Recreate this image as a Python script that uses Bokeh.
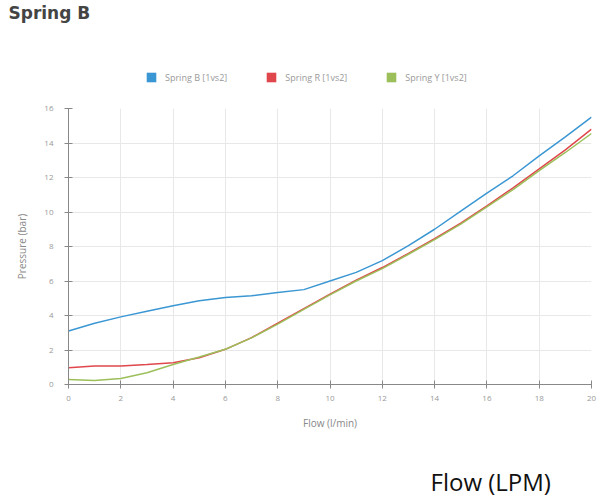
from bokeh.plotting import figure
from bokeh.models import Legend, LegendItem, Label, FixedTicker, Range1d
from bokeh.layouts import column
from bokeh.embed import file_html
from bokeh.resources import INLINE

flow = [0, 1, 2, 3, 4, 5, 6, 7, 8, 9, 10, 11, 12, 13, 14, 15, 16, 17, 18, 19, 20]
spring_b = [3.1, 3.55, 3.92, 4.25, 4.56, 4.85, 5.04, 5.14, 5.33, 5.5, 6.0, 6.5, 7.18, 8.05, 9.0, 10.05, 11.1, 12.1, 13.25, 14.35, 15.5]
spring_r = [0.97, 1.07, 1.07, 1.16, 1.26, 1.55, 2.04, 2.72, 3.55, 4.4, 5.24, 6.05, 6.78, 7.6, 8.45, 9.35, 10.35, 11.4, 12.5, 13.6, 14.8]
spring_y = [0.29, 0.23, 0.35, 0.68, 1.16, 1.59, 2.04, 2.7, 3.5, 4.35, 5.2, 6.0, 6.72, 7.55, 8.4, 9.3, 10.3, 11.3, 12.4, 13.45, 14.55]
series = [spring_b, spring_r, spring_y]
series_names = ["Spring B [1vs2]", "Spring R [1vs2]", "Spring Y [1vs2]"]
series_colors = ["#3b97d3", "#e0474c", "#9cbf5a"]
x_ticks = [0, 2, 4, 6, 8, 10, 12, 14, 16, 18, 20]
y_ticks = [0, 2, 4, 6, 8, 10, 12, 14, 16]

FONT = "Open Sans"
W = 600
LEFT, RIGHT = 68, 9


def bare(height, **kw):
    f = figure(width=W, height=height, output_backend="svg", toolbar_location=None,
               x_range=Range1d(LEFT, W - RIGHT), y_range=Range1d(0, height),
               x_axis_type=None, y_axis_type=None,
               min_border_left=LEFT, min_border_right=RIGHT, min_border_bottom=0, **kw)
    f.xgrid.visible = False
    f.ygrid.visible = False
    f.outline_line_color = None
    return f


# header: title + legend
head = bare(100, min_border_top=13)
head.title.text = "Spring B"
head.title.text_font = "DejaVu Sans"
head.title.text_font_size = "17px"
head.title.text_font_style = "bold"
head.title.text_color = "#444444"
head.title.offset = 8 - LEFT
head.title.standoff = 0

items = []
for name, col in zip(series_names, series_colors):
    sq = head.scatter(flow, flow, marker="square", size=0, fill_color=col, line_color=None)
    items.append(LegendItem(label=name, renderers=[sq]))
legend = Legend(items=items, orientation="horizontal", location=(139 - LEFT, 11),
                label_text_font=FONT, label_text_font_size="9px", label_text_color="#999999",
                glyph_width=24, glyph_height=24, label_standoff=2, spacing=32,
                border_line_color=None, background_fill_alpha=0, margin=0, padding=0)
head.add_layout(legend)

# main chart
p = figure(width=W, height=340, output_backend="svg", toolbar_location=None,
           x_range=Range1d(0, 20), y_range=Range1d(0, 16),
           min_border_left=LEFT, min_border_right=RIGHT, min_border_top=8, min_border_bottom=56)
p.outline_line_color = None
for ys, col in zip(series, series_colors):
    p.line(flow, ys, line_color=col, line_width=1.5)

for ax in (p.xaxis, p.yaxis):
    ax.axis_line_color = "#888888"
    ax.major_tick_line_color = "#888888"
    ax.major_tick_in = 4
    ax.major_tick_out = 4
    ax.minor_tick_line_color = None
    ax.major_label_text_font = FONT
    ax.major_label_text_font_size = "8px"
    ax.major_label_text_color = "#999999"
    ax.axis_label_text_font = FONT
    ax.axis_label_text_font_size = "10px"
    ax.axis_label_text_font_style = "normal"
    ax.axis_label_text_color = "#888888"
    ax.axis_label_standoff = 12

p.xaxis.ticker = FixedTicker(ticks=x_ticks)
p.yaxis.ticker = FixedTicker(ticks=y_ticks)
p.xaxis.axis_label = "Flow (l/min)"
p.yaxis.axis_label = "Pressure (bar)"
p.xaxis.major_label_standoff = 7
p.yaxis.major_label_standoff = 11
p.xgrid.grid_line_color = "#e8e8e8"
p.ygrid.grid_line_color = "#e8e8e8"

# footer note
foot = bare(60, min_border_top=0)
foot.add_layout(Label(x=430, y=19, text="Flow (LPM)", text_font=FONT, text_font_size="24px",
                      text_color="#111111", text_baseline="middle"))

layout = column(head, p, foot, spacing=0)
open("out.html", "w").write(file_html(layout, INLINE))
